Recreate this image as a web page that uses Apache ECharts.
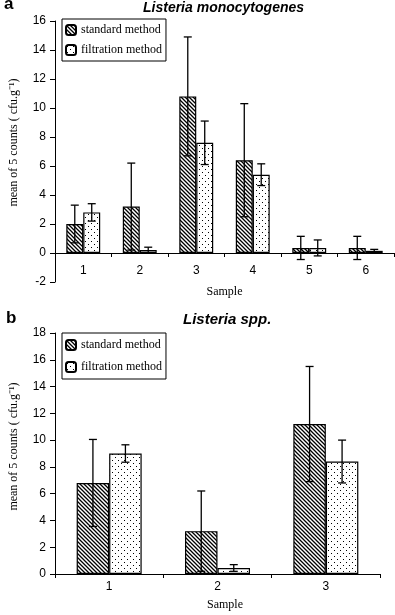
<!DOCTYPE html>
<html>
<head>
<meta charset="utf-8">
<script src="https://cdn.jsdelivr.net/npm/echarts@6/dist/echarts.min.js"></script>
<style>
  html, body { margin: 0; padding: 0; background: #fff; }
  #chart { width: 395px; height: 615px; }
</style>
</head>
<body>
<div id="chart"></div>
<script>
// panel a : Listeria monocytogenes
const samplesA = ["1", "2", "3", "4", "5", "6"];
const standardA = [2.0, 3.2, 10.8, 6.4, 0.35, 0.35];
const standardErrA = [1.3, 3.0, 4.1, 3.9, 0.8, 0.8];
const filtrationA = [2.8, 0.2, 7.6, 5.4, 0.35, 0.15];
const filtrationErrA = [0.6, 0.2, 1.5, 0.75, 0.55, 0.1];
const ticksA = [-2, 16, 2]; // min, max, interval

// panel b : Listeria spp.
const samplesB = ["1", "2", "3"];
const standardB = [6.8, 3.2, 11.2];
const standardErrB = [3.25, 3.0, 4.3];
const filtrationB = [9.0, 0.45, 8.4];
const filtrationErrB = [0.65, 0.25, 1.6];
const ticksB = [0, 18, 2];

const serif = "Liberation Serif";
const sans = "Liberation Sans";

// fill patterns
function makePattern(kind) {
  const c = document.createElement("canvas");
  const s = kind === "hatch" ? 4 : 6;
  c.width = s;
  c.height = s;
  const ctx = c.getContext("2d");
  ctx.fillStyle = "#fff";
  ctx.fillRect(0, 0, s, s);
  ctx.fillStyle = "#000";
  if (kind === "hatch") {
    // "\" stripes
    ctx.strokeStyle = "#000";
    ctx.lineWidth = 1.3;
    ctx.beginPath();
    ctx.moveTo(-1, -1); ctx.lineTo(s + 1, s + 1);
    ctx.moveTo(-1 - s, -1); ctx.lineTo(1, s + 1);
    ctx.moveTo(s - 1, -1); ctx.lineTo(2 * s + 1, s + 1);
    ctx.stroke();
  } else {
    ctx.fillRect(1, 1, 1, 1);
    ctx.fillRect(4, 4, 1, 1);
  }
  return { image: c, repeat: "repeat" };
}
const hatch = makePattern("hatch");
const dots = makePattern("dots");

function barStyle(fill) {
  return { color: fill, borderColor: "#000", borderWidth: 1.2 };
}

function errData(vals, errs) {
  return vals.map((v, i) => [i, v - errs[i], v + errs[i]]);
}

// side -1 = left bar, +1 = right bar
function errRender(side) {
  return function (params, api) {
    const x = api.value(0);
    const lo = api.coord([x, api.value(1)]);
    const hi = api.coord([x, api.value(2)]);
    const band = api.size([1, 0])[0];
    const bw = band * 0.6 / 2;
    const cx = lo[0] + side * bw / 2;
    const cap = 4;
    const st = { stroke: "#000", lineWidth: 1.3 };
    return {
      type: "group",
      children: [
        { type: "line", shape: { x1: cx, y1: lo[1], x2: cx, y2: hi[1] }, style: st },
        { type: "line", shape: { x1: cx - cap, y1: lo[1], x2: cx + cap, y2: lo[1] }, style: st },
        { type: "line", shape: { x1: cx - cap, y1: hi[1], x2: cx + cap, y2: hi[1] }, style: st },
      ],
    };
  };
}

function yAxis(idx, t, namePad) {
  return {
    type: "value",
    gridIndex: idx,
    min: t[0],
    max: t[1],
    interval: t[2],
    name: "mean of 5 counts ( cfu.g\u207B\u00B9)",
    nameLocation: "middle",
    nameGap: 35,
    nameTextStyle: { fontFamily: serif, fontSize: 12, color: "#000", padding: namePad },
    splitLine: { show: false },
    axisLine: { show: true, lineStyle: { color: "#000", width: 1 } },
    axisTick: { show: true, length: 5, lineStyle: { color: "#000" } },
    axisLabel: { color: "#000", fontFamily: sans, fontSize: 12, margin: 9 },
  };
}

// offset lifts the axis up to the zero line when min is below zero
function xAxis(idx, cats, offset, labelMargin, nameGap, namePad) {
  return {
    type: "category",
    gridIndex: idx,
    data: cats,
    offset: offset,
    name: "Sample",
    nameLocation: "middle",
    nameGap: nameGap,
    nameTextStyle: { fontFamily: serif, fontSize: 12, color: "#000", padding: namePad },
    axisLine: { onZero: false, lineStyle: { color: "#000", width: 1 } },
    axisTick: { show: true, length: 4, lineStyle: { color: "#000" } },
    axisLabel: { color: "#000", fontFamily: sans, fontSize: 12, margin: labelMargin },
  };
}

function barSeries(name, idx, vals, fill) {
  return {
    name: name,
    type: "bar",
    xAxisIndex: idx,
    yAxisIndex: idx,
    data: vals,
    barGap: "0%",
    barCategoryGap: "40%",
    itemStyle: barStyle(fill),
    emphasis: { disabled: true },
  };
}

function errSeries(idx, vals, errs, side) {
  return {
    type: "custom",
    xAxisIndex: idx,
    yAxisIndex: idx,
    data: errData(vals, errs),
    renderItem: errRender(side),
    encode: { x: 0, y: [1, 2] },
    z: 5,
    silent: true,
  };
}

function legend(top, gap, pad) {
  return {
    orient: "vertical",
    left: 62,
    top: top,
    width: 96,
    padding: [pad, 4, pad, 3],
    itemGap: gap,
    itemWidth: 10,
    itemHeight: 10,
    borderColor: "#000",
    borderWidth: 1,
    backgroundColor: "#fff",
    selectedMode: false,
    textStyle: { fontFamily: serif, fontSize: 12, color: "#000" },
    data: ["standard method", "filtration method"],
  };
}

const chart = echarts.init(document.getElementById("chart"), null, { renderer: "canvas" });

const option = {
  animation: false,
  backgroundColor: "#fff",
  title: [
    { text: "a", left: 4, top: -4, padding: 0, textStyle: { fontFamily: sans, fontSize: 17, fontWeight: "bold", color: "#000" } },
    { text: "Listeria monocytogenes", left: 143, top: 1, padding: 0, textStyle: { fontFamily: sans, fontSize: 14, fontWeight: "bold", fontStyle: "italic", color: "#000" } },
    { text: "b", left: 6, top: 310, padding: 0, textStyle: { fontFamily: sans, fontSize: 17, fontWeight: "bold", color: "#000" } },
    { text: "Listeria spp.", left: 183, top: 312, padding: 0, textStyle: { fontFamily: sans, fontSize: 15, fontWeight: "bold", fontStyle: "italic", color: "#000" } },
  ],
  legend: [legend(19, 8, 5), legend(333, 10, 6)],
  grid: [
    { left: 52, right: 1, top: 21, bottom: 333 },
    { left: 52, right: 15, top: 333, bottom: 41 },
  ],
  xAxis: [
    xAxis(0, samplesA, -29, 12, 33, 0),
    xAxis(1, samplesB, 0, 7, 25, [0, 0, 0, 15]),
  ],
  yAxis: [yAxis(0, ticksA, [0, 0, 0, 18]), yAxis(1, ticksB, [0, 0, 0, 14])],
  series: [
    barSeries("standard method", 0, standardA, hatch),
    barSeries("filtration method", 0, filtrationA, dots),
    errSeries(0, standardA, standardErrA, -1),
    errSeries(0, filtrationA, filtrationErrA, 1),
    barSeries("standard method", 1, standardB, hatch),
    barSeries("filtration method", 1, filtrationB, dots),
    errSeries(1, standardB, standardErrB, -1),
    errSeries(1, filtrationB, filtrationErrB, 1),
  ],
};

chart.setOption(option);
</script>
</body>
</html>
